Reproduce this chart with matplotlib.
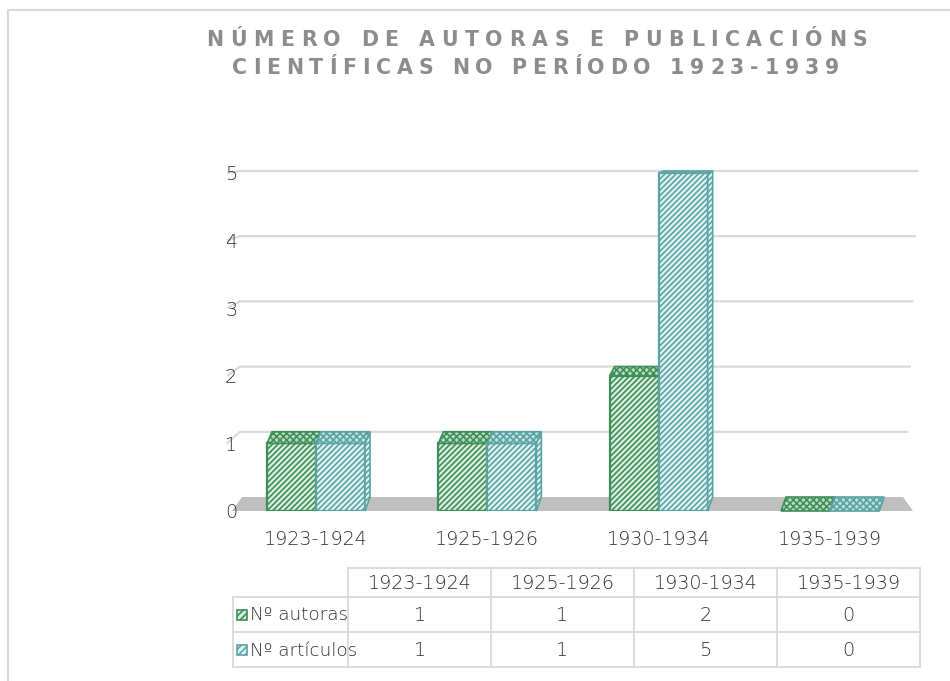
import numpy as np
import matplotlib
matplotlib.use("Agg")
import matplotlib.pyplot as plt
from matplotlib.patches import Polygon, Rectangle
from matplotlib.font_manager import FontProperties, findfont
from matplotlib.ft2font import FT2Font

# ---------------- data ----------------
title_lines = ["NÚMERO DE AUTORAS E PUBLICACIÓNS", "CIENTÍFICAS NO PERÍODO 1923-1939"]
categories = ["1923-1924", "1925-1926", "1930-1934", "1935-1939"]
series_names = ["Nº autoras", "Nº artículos"]
autoras = [1, 1, 2, 0]
articulos = [1, 1, 5, 0]
yticks = [0, 1, 2, 3, 4, 5]

# ---------------- style ----------------
W, H = 950, 681
DPI = 100
TXT = "#303030"
GRID = "#d9d9d9"
FLOOR = "#bfbfbf"
green_face, green_edge, green_top = "#dcefdc", "#3e8e5a", "#b9dcc0"
blue_face, blue_edge, blue_top = "#e3f3f3", "#5aa3a3", "#bfe0e0"
FONT = "DejaVu Sans"
FW = 200
FS = 13.8
plt.rcParams["hatch.linewidth"] = 1.2
plt.rcParams["font.family"] = [FONT]
plt.rcParams["font.weight"] = FW

fig = plt.figure(figsize=(W / DPI, H / DPI), dpi=DPI)


def fx(x):
    return x / W


def fy(y):
    return 1 - y / H


# ---------------- main axes ----------------
PX_PER_UNIT_Y = 67.6
YMAX = 5.6
ax = fig.add_axes([fx(240), fy(511), fx(913) - fx(240), YMAX * PX_PER_UNIT_Y / H])
ax.set_xlim(-0.4436, 3.4844)
ax.set_ylim(0, YMAX)
for sp in ax.spines.values():
    sp.set_visible(False)
ax.set_facecolor("none")

p00 = ax.transData.transform((0, 0))
p11 = ax.transData.transform((1, 1))
sx = p11[0] - p00[0]
sy = p11[1] - p00[1]
x0, x1 = ax.get_xlim()


def back_dy(v):
    return (14 - 2.4 * v) / sy


DX = 5 / sx

# gridlines on the back wall
for v in yticks[1:]:
    xr = x1 + (v * 2.5 - 7) / sx
    ax.plot([x0 - 13 / sx, x0, xr], [v, v + back_dy(v), v + back_dy(v)],
            color=GRID, lw=1.6, clip_on=False, zorder=1, solid_capstyle="butt")

# floor
ax.add_patch(Polygon([(x0 - 8 / sx, 0), (x1, 0), (x1 - 10 / sx, back_dy(0)),
                      (x0 + 2 / sx, back_dy(0))], closed=True,
                     facecolor=FLOOR, edgecolor="none", zorder=1, clip_on=False))

# bars
w = 0.286
series = [(autoras, green_face, green_edge, green_top, -w, 3),
          (articulos, blue_face, blue_edge, blue_top, 0.0, 4)]
xs_base = np.arange(len(categories))
for vals, face, edge, top, off, z in series:
    xs = xs_base + off
    ax.bar(xs, vals, width=w, align="edge", facecolor=face, edgecolor=edge,
           hatch="//////", lw=1.6, zorder=z)
    for xl, v in zip(xs, vals):
        xr = xl + w
        d = back_dy(v)
        ax.add_patch(Polygon([(xl, v), (xr, v), (xr + DX, v + d), (xl + DX, v + d)],
                             closed=True, facecolor=top, edgecolor=edge, lw=1.2,
                             hatch="xxxxx", zorder=z + 0.2, clip_on=False))
        ax.add_patch(Polygon([(xr, 0), (xr + DX, back_dy(0)), (xr + DX, v + d), (xr, v)],
                             closed=True, facecolor=face, edgecolor=edge, lw=1.2,
                             hatch="//////", zorder=z + 0.1, clip_on=False))

ax.set_yticks(yticks)
ax.set_yticklabels([str(t) for t in yticks])
ax.set_xticks(xs_base)
ax.set_xticklabels(categories)
ax.tick_params(axis="both", length=0, labelsize=FS, labelcolor=TXT)
ax.tick_params(axis="y", pad=2)
ax.tick_params(axis="x", pad=14)

# ---------------- overlay (frame + table) ----------------
tax = fig.add_axes([0, 0, 1, 1])
tax.set_xlim(0, W)
tax.set_ylim(H, 0)
tax.axis("off")
tax.set_facecolor("none")

tax.plot([8, 8, W], [H, 10, 10], color=GRID, lw=1.5)

cols = [233, 348, 491, 634, 777, 920]
rows = [568, 597, 632, 667]
LW_T = 1.3
tax.plot([cols[1], cols[-1]], [rows[0], rows[0]], color=GRID, lw=LW_T)
for c in cols[1:]:
    tax.plot([c, c], [rows[0], rows[-1]], color=GRID, lw=LW_T)
tax.plot([cols[0], cols[0]], [rows[1], rows[-1]], color=GRID, lw=LW_T)
for r in rows[1:]:
    tax.plot([cols[0], cols[-1]], [r, r], color=GRID, lw=LW_T)

for j, cat in enumerate(categories):
    tax.text((cols[j + 1] + cols[j + 2]) / 2, (rows[0] + rows[1]) / 2 + 1, cat,
             ha="center", va="center", fontsize=FS, color=TXT)

row_series = [(series_names[0], autoras, green_face, green_edge),
              (series_names[1], articulos, blue_face, blue_edge)]
for i, (name, vals, face, edge) in enumerate(row_series):
    yc = (rows[i + 1] + rows[i + 2]) / 2
    tax.add_patch(Rectangle((237, yc - 5), 10, 10, facecolor=face, edgecolor=edge,
                            lw=1.2, hatch="/////"))
    tax.text(250, yc + 1, name, ha="left", va="center", fontsize=13.2, color=TXT)
    for j, v in enumerate(vals):
        tax.text((cols[j + 1] + cols[j + 2]) / 2, yc + 1, str(v), ha="center",
                 va="center", fontsize=FS, color=TXT)


# ---------------- title with letter spacing ----------------
def spaced_text(s, x_left, x_right, ybase, size, color):
    fp = FontProperties(family="DejaVu Sans", weight="bold", size=size)
    try:
        font = FT2Font(findfont(fp))
        font.set_size(size, DPI)
        adv = []
        for ch in s:
            g = font.load_char(ord(ch))
            adv.append(g.linearHoriAdvance / 65536)
    except Exception:
        adv = [size * DPI / 72 * 0.7 for _ in s]
    spacing = ((x_right - x_left) - sum(adv[:-1]) - adv[-1] * 0.85) / (len(s) - 1)
    x = x_left
    for ch, a in zip(s, adv):
        tax.text(x, ybase, ch, fontproperties=fp, ha="left", va="baseline", color=color)
        x += a + spacing


spaced_text(title_lines[0], 206, 865, 46, 14.8, "#8c8c8c")
spaced_text(title_lines[1], 232, 837, 74, 14.8, "#8c8c8c")

fig.savefig("out.png", dpi=DPI)
